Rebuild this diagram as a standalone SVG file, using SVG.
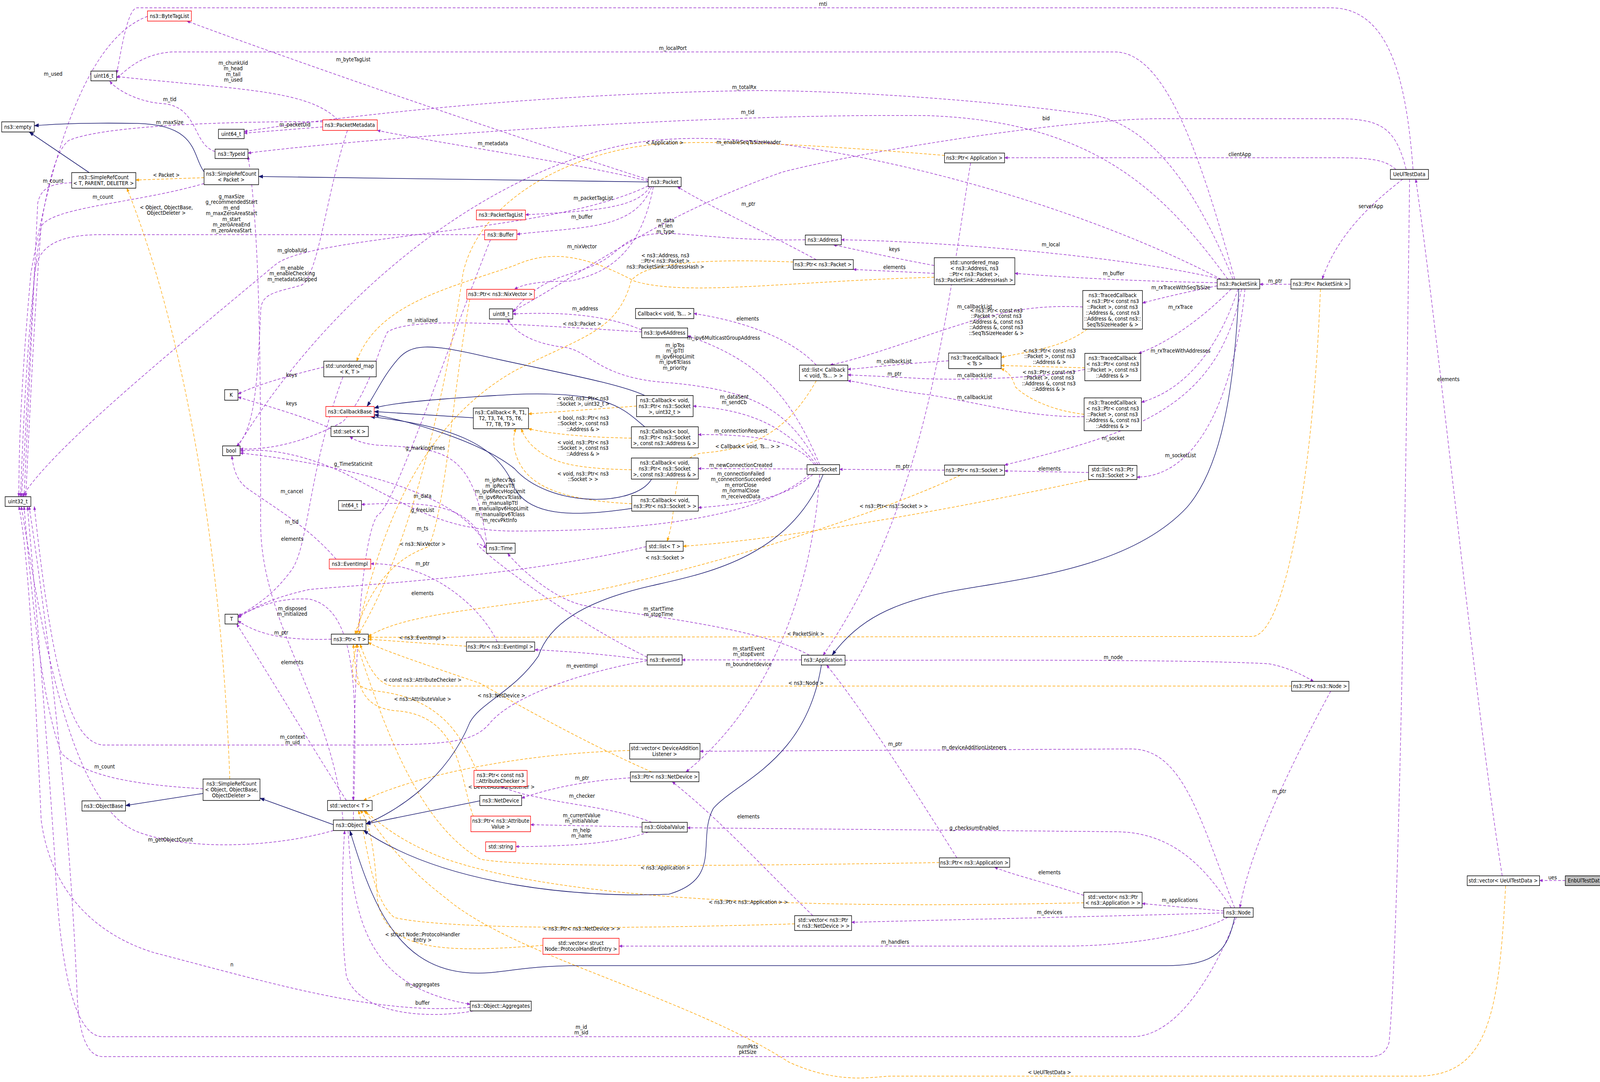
<svg xmlns="http://www.w3.org/2000/svg" width="4688" height="2771" viewBox="0 0 4688 2771">
<style>
text{font-family:"DejaVu Sans","Liberation Sans",sans-serif;font-size:14px;fill:#000}
.t{text-anchor:middle}
.l{text-anchor:middle}
rect{fill:#fff;stroke:#000;stroke-width:1.5}
rect.r{stroke:#f00}
rect.g{fill:#bfbfbf}
.m{fill:none;stroke:#9a32cd;stroke-width:1.5;stroke-dasharray:8,5;marker-end:url(#ap)}
.o{fill:none;stroke:#ffa500;stroke-width:1.5;stroke-dasharray:8,5;marker-end:url(#ao)}
.i{fill:none;stroke:#191970;stroke-width:1.6;marker-end:url(#ai)}
</style>
<defs>
<marker id="ap" markerWidth="10" markerHeight="8" refX="9" refY="4" orient="auto" markerUnits="userSpaceOnUse"><path d="M0,0L10,4L0,8z" fill="#9a32cd"/></marker>
<marker id="ao" markerWidth="10" markerHeight="8" refX="9" refY="4" orient="auto" markerUnits="userSpaceOnUse"><path d="M0,0L10,4L0,8z" fill="#ffa500"/></marker>
<marker id="ai" markerWidth="14" markerHeight="10" refX="13" refY="5" orient="auto" markerUnits="userSpaceOnUse"><path d="M0,0L14,5L0,10z" fill="#191970"/></marker>
</defs>
<rect x="0" y="0" width="4688" height="2771" style="fill:#fff;stroke:none"/>
<g transform="scale(0.878,1)">
<g id="connectors">
<path class="m" d="M430,42 C250,100 150,400 90,700 C60,1000 55,1150 55,1272"/>
<path class="m" d="M1890,460 C1500,350 900,170 545,54"/>
<path class="m" d="M985,307 C900,230 700,230 340,196"/>
<path class="m" d="M627,388 C560,370 580,270 470,265 C400,260 340,230 320,208"/>
<path class="m" d="M941,325 L712,341"/>
<path class="m" d="M941,312 C700,310 300,320 200,360 C110,420 75,900 60,1272"/>
<path class="m" d="M1013,334 C950,500 930,700 880,730 C800,750 760,750 760,800 C750,1000 740,1100 690,1142"/>
<path class="m" d="M1413,601 L300,601 C150,600 110,640 100,700 C80,1000 70,1200 62,1272"/>
<path class="m" d="M209,468 C150,470 120,480 110,520 C95,800 80,1100 70,1272"/>
<path class="m" d="M595,470 C400,520 150,530 120,580 C100,800 85,1100 75,1272"/>
<path class="m" d="M592,2020 C400,2010 250,1990 180,1930 C120,1800 90,1500 70,1297"/>
<path class="m" d="M972,2127 C800,2170 550,2180 400,2130 C200,2060 120,1600 62,1297"/>
<path class="m" d="M1371,2580 C1100,2600 800,2520 450,2440 C300,2400 150,2300 120,2100 C100,1700 80,1400 55,1297"/>
<path class="m" d="M1890,464 C1700,420 1300,370 1100,334"/>
<path class="m" d="M1895,478 C1860,530 1750,540 1532,550"/>
<path class="m" d="M1900,478 C1850,590 1700,580 1507,600"/>
<path class="m" d="M1905,478 C1870,640 1780,700 1660,720 C1560,720 1520,730 1500,741"/>
<path class="m" d="M1890,476 C1600,600 900,600 800,680 C500,900 150,1150 65,1272"/>
<path class="m" d="M2380,665 C2200,580 2050,520 1975,478"/>
<path class="m" d="M2348,614 C2000,620 1900,560 1800,640 C1700,720 1600,680 1495,800"/>
<path class="m" d="M1871,845 C1750,800 1600,800 1495,804"/>
<path class="m" d="M2724,680 C2600,660 2500,640 2430,627"/>
<path class="m" d="M2724,700 L2488,690"/>
<path class="m" d="M3560,715 C3300,660 2800,620 2453,614"/>
<path class="m" d="M3549,724 C3300,720 3100,710 2959,700"/>
<path class="m" d="M3549,732 C3450,750 3400,760 3331,776"/>
<path class="m" d="M3590,740 C3500,820 3400,880 3320,905"/>
<path class="m" d="M3610,740 C3550,900 3450,1000 3328,1030"/>
<path class="m" d="M3620,740 C3550,1050 3300,1110 2929,1191"/>
<path class="m" d="M3630,740 C3600,1000 3500,1220 3315,1222"/>
<path class="m" d="M3764,728 L3673,728"/>
<path class="m" d="M4090,459 C4000,520 3900,600 3855,715"/>
<path class="m" d="M4070,434 C4040,410 4000,404 3900,404 L2929,404"/>
<path class="m" d="M4380,2243 C4300,1800 4200,900 4128,459"/>
<path class="m" d="M4564,2255 L4489,2255"/>
<path class="m" d="M4110,459 C4100,1200 4080,2400 4050,2670 C4040,2700 4020,2706 3990,2706 L300,2706 C250,2706 230,2640 225,2550 C200,2000 120,1500 85,1297"/>
<path class="m" d="M3605,2349 C3560,2450 3450,2655 3300,2655 L300,2655 C200,2655 170,2400 160,2200 C130,1800 100,1500 80,1297"/>
<path class="m" d="M4120,434 C4100,200 4050,20 3880,20 L400,20 C370,20 350,150 340,188"/>
<path class="m" d="M3600,715 C3500,400 3400,133 3250,133 L500,133 C400,140 360,190 340,199"/>
<path class="m" d="M3595,715 C3450,400 3300,300 3150,290 C2900,260 2500,232 2200,232 C1500,240 900,310 712,337"/>
<path class="m" d="M3580,715 C3400,500 3200,310 2700,296 C2000,290 1000,360 723,392"/>
<path class="m" d="M4100,434 C4070,330 4030,304 3900,304 L3380,304 C3100,305 2500,390 2280,441 C1900,560 1700,700 1495,797"/>
<path class="m" d="M3560,715 C3200,550 2700,420 2300,372 C2100,350 2000,352 1900,360 C1500,400 1000,700 690,1148"/>
<path class="m" d="M2380,935 C2300,860 2150,820 2023,803"/>
<path class="m" d="M2766,924 C2650,930 2550,940 2472,946"/>
<path class="m" d="M3157,786 C3000,780 2900,800 2700,860 C2600,890 2500,920 2420,935"/>
<path class="m" d="M3163,946 C3100,960 2900,975 2700,970 C2600,965 2520,962 2472,960"/>
<path class="m" d="M3161,1067 C3000,1070 2850,1030 2700,1010 C2600,1000 2520,980 2472,975"/>
<path class="m" d="M2390,1190 C2300,1000 2200,920 2005,860"/>
<path class="m" d="M2385,1190 C2300,1050 2200,1000 1950,980 C1750,970 1720,900 1650,890 C1550,880 1500,850 1480,817"/>
<path class="m" d="M2380,1190 C2300,1100 2200,1050 2021,1040"/>
<path class="m" d="M2375,1190 C2330,1140 2250,1112 2036,1113"/>
<path class="m" d="M2353,1201 L2036,1200"/>
<path class="m" d="M2370,1215 C2300,1270 2200,1290 2036,1300"/>
<path class="m" d="M2360,1215 C2200,1340 1800,1360 1500,1360 C1300,1360 1200,1300 1000,1210 C850,1150 750,1150 700,1155"/>
<path class="m" d="M2754,1204 L2448,1202"/>
<path class="m" d="M3174,1210 L2929,1206"/>
<path class="m" d="M2337,1690 L1989,1690"/>
<path class="m" d="M2360,1678 C2200,1600 1800,1570 1700,1550 C1600,1530 1500,1440 1480,1417"/>
<path class="m" d="M2390,1215 C2370,1500 2250,1800 2000,1977"/>
<path class="m" d="M2464,1691 C3000,1690 3500,1690 3700,1700 C3760,1710 3800,1730 3830,1745"/>
<path class="m" d="M2790,2197 C2650,2000 2500,1800 2410,1703"/>
<path class="m" d="M2830,417 C2760,800 2700,1300 2400,1678"/>
<path class="m" d="M1887,1690 C1800,1680 1700,1670 1559,1664"/>
<path class="m" d="M980,1432 C900,1350 800,1300 720,1250 C690,1230 680,1200 676,1167"/>
<path class="m" d="M966,1637 C850,1640 760,1630 694,1590"/>
<path class="m" d="M1010,2050 C900,1900 800,1750 690,1598"/>
<path class="m" d="M1000,965 C900,1200 900,1400 850,1460 C800,1520 750,1550 694,1578"/>
<path class="m" d="M1884,1400 C1500,1480 1000,1500 900,1510 C800,1530 750,1550 694,1582"/>
<path class="m" d="M1030,2100 C1040,1800 1050,1560 900,1534 C800,1530 740,1560 694,1578"/>
<path class="m" d="M1015,2127 C1030,2400 1100,2530 1371,2572"/>
<path class="m" d="M1380,2589 C1250,2610 1050,2600 1010,2500 C995,2400 995,2250 1005,2127"/>
<path class="m" d="M1838,1992 C1700,2000 1600,2020 1521,2044"/>
<path class="m" d="M1900,2106 C1800,2070 1650,2060 1560,2040 C1500,2030 1480,2020 1460,2014"/>
<path class="m" d="M1872,2118 L1547,2112"/>
<path class="m" d="M1890,2131 C1800,2160 1650,2168 1504,2168"/>
<path class="m" d="M3600,2325 C3500,2100 3450,1920 3300,1918 L2041,1924"/>
<path class="m" d="M3590,2325 C3500,2200 3400,2130 3250,2130 L2004,2120"/>
<path class="m" d="M2370,2345 C2200,2200 2100,2100 1960,2002"/>
<path class="m" d="M3160,2293 C3050,2260 2950,2240 2900,2221"/>
<path class="m" d="M3568,2333 L3330,2314"/>
<path class="m" d="M3568,2338 C3300,2345 2800,2355 2483,2362"/>
<path class="m" d="M3580,2349 C3500,2390 3300,2423 3100,2423 L1805,2423"/>
<path class="m" d="M3880,1770 C3800,1900 3650,2150 3615,2325"/>
<path class="m" d="M944,940 C850,960 750,985 694,1009"/>
<path class="m" d="M965,1098 C900,1070 780,1040 694,1017"/>
<path class="m" d="M1420,1397 C1380,1150 1300,1150 1100,1140 C1050,1135 1030,1125 1020,1118"/>
<path class="m" d="M1420,1403 C1350,1260 1000,1190 700,1160"/>
<path class="m" d="M1420,1410 C1380,1290 1250,1283 1054,1292"/>
<path class="m" d="M1887,1683 C1600,1560 1300,1340 1418,1403"/>
<path class="m" d="M1430,614 C1300,900 1150,1300 1100,1320 C1040,1400 1030,1900 1030,2050"/>
<path class="m" d="M1000,2100 C970,1800 760,1600 760,1340 C760,1000 760,600 723,400"/>
<path class="m" d="M1900,1690 C1700,1720 1500,1780 1430,1850 C1380,1905 1300,1908 1000,1908 L300,1908 C200,1900 150,1700 100,1297"/>
<path class="m" d="M1450,1644 C1400,1550 1250,1440 1081,1444"/>
<path class="m" d="M1871,850 C1500,830 1200,810 1130,850 C1100,900 1080,1000 1000,1080 C850,1150 750,1150 700,1150"/>
<path class="o" d="M595,455 L396,461"/>
<path class="o" d="M670,1995 C650,1500 560,900 370,482"/>
<path class="o" d="M2724,710 C2300,720 2000,760 1850,720 C1700,650 1600,640 1500,680 C1300,740 1100,780 1040,925"/>
<path class="o" d="M2313,671 C2000,660 1870,680 1840,720 C1800,850 1700,860 1500,950 C1200,1100 1100,1400 1040,1624"/>
<path class="o" d="M1370,766 C1320,1000 1300,1300 1250,1400 C1150,1430 1080,1500 1035,1624"/>
<path class="o" d="M1360,1655 L1074,1637"/>
<path class="o" d="M1390,1973 C1350,1900 1300,1790 1100,1770 C1000,1760 1030,1700 1040,1650"/>
<path class="o" d="M1380,2090 C1340,2000 1350,1830 1150,1820 C1050,1810 1040,1750 1030,1650"/>
<path class="o" d="M1900,1977 C1700,1900 1500,1800 1400,1750 C1200,1690 1100,1660 1074,1645"/>
<path class="o" d="M2739,2209 C2000,2220 1500,2220 1400,2200 C1200,2100 1100,1800 1040,1650"/>
<path class="o" d="M2754,398 C2500,380 2200,360 1980,366 C1700,370 1400,500 1350,700 C1300,1000 1200,1400 1045,1624"/>
<path class="o" d="M3850,740 C3830,1200 3750,1630 3650,1630 L1074,1632"/>
<path class="o" d="M3766,1757 L1150,1757 C1100,1757 1070,1700 1050,1650"/>
<path class="o" d="M2800,1217 C2600,1300 2200,1420 1800,1500 C1500,1560 1200,1560 1074,1630"/>
<path class="o" d="M2380,975 C2300,1100 2200,1150 2050,1160 C1950,1170 1980,1300 1945,1386"/>
<path class="o" d="M3180,1228 C2800,1300 2300,1380 1992,1399"/>
<path class="o" d="M1856,1040 L1541,1060"/>
<path class="o" d="M1841,1122 C1700,1120 1600,1110 1541,1098"/>
<path class="o" d="M1841,1203 C1650,1200 1600,1180 1550,1140 C1530,1120 1525,1110 1520,1098"/>
<path class="o" d="M1842,1290 C1600,1280 1520,1230 1500,1150 C1495,1120 1500,1105 1505,1098"/>
<path class="o" d="M3170,843 C3100,890 3000,900 2919,915"/>
<path class="o" d="M3163,942 L2919,936"/>
<path class="o" d="M3161,1061 C3050,1050 2980,1010 2960,990 C2950,960 2935,950 2919,944"/>
<path class="o" d="M1836,1922 C1500,1930 1200,1990 1060,2050"/>
<path class="o" d="M1583,2421 C1300,2440 1120,2440 1100,2300 C1095,2200 1080,2100 1050,2076"/>
<path class="o" d="M2317,2366 C1800,2380 1300,2380 1150,2350 C1080,2300 1070,2150 1045,2076"/>
<path class="o" d="M3160,2312 C2500,2325 1700,2320 1300,2200 C1150,2150 1100,2100 1060,2076"/>
<path class="o" d="M4390,2268 C4370,2600 4340,2756 4130,2756 L2600,2756 C2550,2756 2450,2780 2300,2720 C2000,2550 1500,2450 1300,2300 C1150,2200 1080,2100 1065,2076"/>
<path class="i" d="M260,442 L85,338"/>
<path class="i" d="M595,440 C560,400 580,320 400,316 C250,314 150,318 100,322"/>
<path class="i" d="M1890,466 L754,452"/>
<path class="i" d="M1380,1070 L1091,1054"/>
<path class="i" d="M1880,1013 C1800,980 1600,950 1400,910 C1250,880 1200,880 1160,920 C1120,960 1100,1000 1070,1041"/>
<path class="i" d="M1880,1093 C1820,1050 1780,1000 1500,1010 C1300,1020 1150,1030 1091,1045"/>
<path class="i" d="M1900,1227 C1850,1300 1600,1300 1500,1200 C1400,1130 1200,1080 1091,1062"/>
<path class="i" d="M1842,1302 C1700,1320 1550,1330 1500,1250 C1450,1130 1300,1090 1080,1067"/>
<path class="i" d="M592,2032 L366,2063"/>
<path class="i" d="M972,2112 L758,2044"/>
<path class="i" d="M1399,2051 L1067,2110"/>
<path class="i" d="M2400,1215 C2300,1430 2050,1470 1900,1500 C1700,1540 1600,1600 1570,1680 C1500,1770 1400,1800 1370,1850 C1300,2000 1150,2080 1067,2110"/>
<path class="i" d="M2395,1703 C2350,1950 2150,2000 2080,2070 C2030,2150 2110,2250 1950,2290 C1700,2300 1300,2270 1060,2127"/>
<path class="i" d="M3612,740 C3600,1000 3560,1200 3460,1300 C3300,1450 3000,1480 2800,1510 C2600,1540 2500,1590 2426,1678"/>
<path class="i" d="M3600,2349 C3580,2430 3550,2473 3400,2473 L1690,2473 C1500,2473 1450,2500 1350,2490 C1150,2470 1080,2300 1020,2127"/>
<g class="lbl">
<text class="l" x="155" y="194">m_used</text>
<text class="l" x="1030" y="157">m_byteTagList</text>
<text class="l" x="680" y="166">m_chunkUid<tspan x="680" dy="14.5">m_head</tspan><tspan x="680" dy="14.5">m_tail</tspan><tspan x="680" dy="14.5">m_used</tspan></text>
<text class="l" x="495" y="259">m_tid</text>
<text class="l" x="860" y="324">m_packetUid</text>
<text class="l" x="495" y="318">m_maxSize</text>
<text class="l" x="852" y="691">m_enable<tspan x="852" dy="14.5">m_enableChecking</tspan><tspan x="852" dy="14.5">m_metadataSkipped</tspan></text>
<text class="l" x="675" y="508">g_maxSize<tspan x="675" dy="14.5">g_recommendedStart</tspan><tspan x="675" dy="14.5">m_end</tspan><tspan x="675" dy="14.5">m_maxZeroAreaStart</tspan><tspan x="675" dy="14.5">m_start</tspan><tspan x="675" dy="14.5">m_zeroAreaEnd</tspan><tspan x="675" dy="14.5">m_zeroAreaStart</tspan></text>
<text class="l" x="155" y="468">m_count</text>
<text class="l" x="300" y="509">m_count</text>
<text class="l" x="305" y="1968">m_count</text>
<text class="l" x="497" y="2155">m_getObjectCount</text>
<text class="l" x="676" y="2475">n</text>
<text class="l" x="1437" y="372">m_metadata</text>
<text class="l" x="1730" y="512">m_packetTagList</text>
<text class="l" x="1697" y="560">m_buffer</text>
<text class="l" x="1697" y="636">m_nixVector</text>
<text class="l" x="852" y="646">m_globalUid</text>
<text class="l" x="2182" y="527">m_ptr</text>
<text class="l" x="1940" y="569">m_data<tspan x="1940" dy="14.5">m_len</tspan><tspan x="1940" dy="14.5">m_type</tspan></text>
<text class="l" x="1706" y="795">m_address</text>
<text class="l" x="2608" y="643">keys</text>
<text class="l" x="2608" y="689">elements</text>
<text class="l" x="3064" y="631">m_local</text>
<text class="l" x="3247" y="705">m_buffer</text>
<text class="l" x="3443" y="741">m_rxTraceWithSeqTsSize</text>
<text class="l" x="3442" y="791">m_rxTrace</text>
<text class="l" x="3442" y="903">m_rxTraceWithAddresses</text>
<text class="l" x="3246" y="1127">m_socket</text>
<text class="l" x="3442" y="1171">m_socketList</text>
<text class="l" x="3718" y="724">m_ptr</text>
<text class="l" x="3997" y="533">serverApp</text>
<text class="l" x="3615" y="400">clientApp</text>
<text class="l" x="4223" y="976">elements</text>
<text class="l" x="4527" y="2252">ues</text>
<text class="l" x="2180" y="2685">numPkts<tspan x="2180" dy="14.5">pktSize</tspan></text>
<text class="l" x="1695" y="2635">m_id<tspan x="1695" dy="14.5">m_sid</tspan></text>
<text class="l" x="2400" y="15">rnti</text>
<text class="l" x="1962" y="128">m_localPort</text>
<text class="l" x="2170" y="228">m_totalRx</text>
<text class="l" x="2180" y="292">m_tid</text>
<text class="l" x="3050" y="308">bid</text>
<text class="l" x="2183" y="369">m_enableSeqTsSizeHeader</text>
<text class="l" x="2180" y="821">elements</text>
<text class="l" x="2607" y="930">m_callbackList</text>
<text class="l" x="2608" y="962">m_ptr</text>
<text class="l" x="2842" y="790">m_callbackList</text>
<text class="l" x="2842" y="966">m_callbackList</text>
<text class="l" x="2842" y="1022">m_callbackList</text>
<text class="l" x="2110" y="870">m_ipv6MulticastGroupAddress</text>
<text class="l" x="1968" y="889">m_ipTos<tspan x="1968" dy="14.5">m_ipTtl</tspan><tspan x="1968" dy="14.5">m_ipv6HopLimit</tspan><tspan x="1968" dy="14.5">m_ipv6Tclass</tspan><tspan x="1968" dy="14.5">m_priority</tspan></text>
<text class="l" x="2141" y="1021">m_dataSent<tspan x="2141" dy="14.5">m_sendCb</tspan></text>
<text class="l" x="2160" y="1108">m_connectionRequest</text>
<text class="l" x="2160" y="1196">m_newConnectionCreated</text>
<text class="l" x="2160" y="1218">m_connectionFailed<tspan x="2160" dy="14.5">m_connectionSucceeded</tspan><tspan x="2160" dy="14.5">m_errorClose</tspan><tspan x="2160" dy="14.5">m_normalClose</tspan><tspan x="2160" dy="14.5">m_receivedData</tspan></text>
<text class="l" x="1458" y="1234">m_ipRecvTos<tspan x="1458" dy="14.7">m_ipRecvTtl</tspan><tspan x="1458" dy="14.7">m_ipv6RecvHopLimit</tspan><tspan x="1458" dy="14.7">m_ipv6RecvTclass</tspan><tspan x="1458" dy="14.7">m_manualIpTtl</tspan><tspan x="1458" dy="14.7">m_manualIpv6HopLimit</tspan><tspan x="1458" dy="14.7">m_manualIpv6Tclass</tspan><tspan x="1458" dy="14.7">m_recvPktInfo</tspan></text>
<text class="l" x="2632" y="1199">m_ptr</text>
<text class="l" x="3060" y="1205">elements</text>
<text class="l" x="2183" y="1666">m_startEvent<tspan x="2183" dy="14.5">m_stopEvent</tspan></text>
<text class="l" x="1920" y="1564">m_startTime<tspan x="1920" dy="14.5">m_stopTime</tspan></text>
<text class="l" x="2183" y="1706">m_boundnetdevice</text>
<text class="l" x="3246" y="1688">m_node</text>
<text class="l" x="2610" y="1910">m_ptr</text>
<text class="l" x="1697" y="1710">m_eventImpl</text>
<text class="l" x="851" y="1263">m_cancel</text>
<text class="l" x="820" y="1625">m_ptr</text>
<text class="l" x="852" y="1701">elements</text>
<text class="l" x="852" y="1385">elements</text>
<text class="l" x="1232" y="1524">elements</text>
<text class="l" x="852" y="1563">m_disposed<tspan x="852" dy="14.5">m_initialized</tspan></text>
<text class="l" x="1232" y="2526">m_aggregates</text>
<text class="l" x="1232" y="2573">buffer</text>
<text class="l" x="1697" y="1997">m_ptr</text>
<text class="l" x="1697" y="2043">m_checker</text>
<text class="l" x="1696" y="2093">m_currentValue<tspan x="1696" dy="14">m_initialValue</tspan></text>
<text class="l" x="1696" y="2131">m_help<tspan x="1696" dy="14.5">m_name</tspan></text>
<text class="l" x="2840" y="1919">m_deviceAdditionListeners</text>
<text class="l" x="2840" y="2125">g_checksumEnabled</text>
<text class="l" x="2182" y="2096">elements</text>
<text class="l" x="3060" y="2239">elements</text>
<text class="l" x="3440" y="2310">m_applications</text>
<text class="l" x="3060" y="2341">m_devices</text>
<text class="l" x="2610" y="2417">m_handlers</text>
<text class="l" x="3730" y="2031">m_ptr</text>
<text class="l" x="850" y="965">keys</text>
<text class="l" x="850" y="1038">keys</text>
<text class="l" x="1240" y="1152">g_markingTimes</text>
<text class="l" x="1030" y="1193">g_TimeStaticInit</text>
<text class="l" x="1232" y="1275">m_data</text>
<text class="l" x="1232" y="1358">m_ts</text>
<text class="l" x="1232" y="1311">g_freeList</text>
<text class="l" x="851" y="1341">m_tid</text>
<text class="l" x="853" y="1892">m_context<tspan x="853" dy="14.5">m_uid</tspan></text>
<text class="l" x="1232" y="1448">m_ptr</text>
<text class="l" x="1232" y="825">m_initialized</text>
<text class="l" x="485" y="453">&lt; Packet &gt;</text>
<text class="l" x="485" y="536">&lt; Object, ObjectBase,<tspan x="485" dy="14.5">ObjectDeleter &gt;</tspan></text>
<text class="l" x="1940" y="659">&lt; ns3::Address, ns3<tspan x="1940" dy="14.5">::Ptr&lt; ns3::Packet &gt;</tspan><tspan x="1940" dy="14.5">ns3::PacketSink::AddressHash &gt;</tspan></text>
<text class="l" x="1697" y="834">&lt; ns3::Packet &gt;</text>
<text class="l" x="1232" y="1398">&lt; ns3::NixVector &gt;</text>
<text class="l" x="1232" y="1638">&lt; ns3::EventImpl &gt;</text>
<text class="l" x="1232" y="1746">&lt; const ns3::AttributeChecker &gt;</text>
<text class="l" x="1232" y="1795">&lt; ns3::AttributeValue &gt;</text>
<text class="l" x="1462" y="1786">&lt; ns3::NetDevice &gt;</text>
<text class="l" x="1940" y="2227">&lt; ns3::Application &gt;</text>
<text class="l" x="1938" y="370">&lt; Application &gt;</text>
<text class="l" x="2349" y="1628">&lt; PacketSink &gt;</text>
<text class="l" x="2350" y="1754">&lt; ns3::Node &gt;</text>
<text class="l" x="1939" y="1433">&lt; ns3::Socket &gt;</text>
<text class="l" x="2180" y="1148">&lt; Callback&lt; void, Ts... &gt; &gt;</text>
<text class="l" x="2606" y="1301">&lt; ns3::Ptr&lt; ns3::Socket &gt; &gt;</text>
<text class="l" x="1700" y="1025">&lt; void, ns3::Ptr&lt; ns3<tspan x="1700" dy="14.5">::Socket &gt;, uint32_t &gt;</tspan></text>
<text class="l" x="1700" y="1075">&lt; bool, ns3::Ptr&lt; ns3<tspan x="1700" dy="14.5">::Socket &gt;, const ns3</tspan><tspan x="1700" dy="14.5">::Address &amp; &gt;</tspan></text>
<text class="l" x="1700" y="1138">&lt; void, ns3::Ptr&lt; ns3<tspan x="1700" dy="14.5">::Socket &gt;, const ns3</tspan><tspan x="1700" dy="14.5">::Address &amp; &gt;</tspan></text>
<text class="l" x="1700" y="1218">&lt; void, ns3::Ptr&lt; ns3<tspan x="1700" dy="14.5">::Socket &gt; &gt;</tspan></text>
<text class="l" x="2905" y="800">&lt; ns3::Ptr&lt; const ns3<tspan x="2905" dy="14.5">::Packet &gt;, const ns3</tspan><tspan x="2905" dy="14.5">::Address &amp;, const ns3</tspan><tspan x="2905" dy="14.5">::Address &amp;, const ns3</tspan><tspan x="2905" dy="14.5">::SeqTsSizeHeader &amp; &gt;</tspan></text>
<text class="l" x="3060" y="903">&lt; ns3::Ptr&lt; const ns3<tspan x="3060" dy="14.5">::Packet &gt;, const ns3</tspan><tspan x="3060" dy="14.5">::Address &amp; &gt;</tspan></text>
<text class="l" x="3058" y="958">&lt; ns3::Ptr&lt; const ns3<tspan x="3058" dy="14.5">::Packet &gt;, const ns3</tspan><tspan x="3058" dy="14.5">::Address &amp;, const ns3</tspan><tspan x="3058" dy="14.5">::Address &amp; &gt;</tspan></text>
<text class="l" x="1462" y="2020">&lt; DeviceAdditionListener &gt;</text>
<text class="l" x="1232" y="2398">&lt; struct Node::ProtocolHandler<tspan x="1232" dy="14.5">Entry &gt;</tspan></text>
<text class="l" x="1696" y="2383">&lt; ns3::Ptr&lt; ns3::NetDevice &gt; &gt;</text>
<text class="l" x="2182" y="2315">&lt; ns3::Ptr&lt; ns3::Application &gt; &gt;</text>
<text class="l" x="3060" y="2751">&lt; UeUlTestData &gt;</text>
</g>
</g>
<g id="n_bytetaglist"><rect class="r" x="430" y="28" width="128" height="26"/><text class="t" x="494" y="46">ns3::ByteTagList</text></g>
<g id="n_uint16"><rect x="265" y="182" width="75" height="25"/><text class="t" x="302" y="199">uint16_t</text></g>
<g id="n_empty"><rect x="5" y="312" width="95" height="26"/><text class="t" x="52" y="330">ns3::empty</text></g>
<g id="n_uint64"><rect x="637" y="331" width="75" height="24"/><text class="t" x="674" y="348">uint64_t</text></g>
<g id="n_pktmeta"><rect class="r" x="941" y="307" width="159" height="27"/><text class="t" x="1020" y="325">ns3::PacketMetadata</text></g>
<g id="n_typeid"><rect x="627" y="382" width="96" height="24"/><text class="t" x="675" y="399">ns3::TypeId</text></g>
<g id="n_srcT"><rect x="209" y="442" width="187" height="40"/><text class="t" x="302" y="459">ns3::SimpleRefCount<tspan x="302" dy="15">&lt; T, PARENT, DELETER &gt;</tspan></text></g>
<g id="n_srcPkt"><rect x="595" y="433" width="159" height="40"/><text class="t" x="674" y="450">ns3::SimpleRefCount<tspan x="674" dy="15">&lt; Packet &gt;</tspan></text></g>
<g id="n_packet"><rect x="1890" y="454" width="96" height="24"/><text class="t" x="1938" y="471">ns3::Packet</text></g>
<g id="n_pkttaglist"><rect class="r" x="1389" y="538" width="143" height="25"/><text class="t" x="1460" y="555">ns3::PacketTagList</text></g>
<g id="n_buffer"><rect class="r" x="1413" y="589" width="94" height="25"/><text class="t" x="1460" y="606">ns3::Buffer</text></g>
<g id="n_ptrnix"><rect class="r" x="1361" y="741" width="197" height="25"/><text class="t" x="1459" y="758">ns3::Ptr&lt; ns3::NixVector &gt;</text></g>
<g id="n_uint8"><rect x="1427" y="791" width="68" height="26"/><text class="t" x="1461" y="809">uint8_t</text></g>
<g id="n_umapKT"><rect x="944" y="925" width="153" height="40"/><text class="t" x="1020" y="942">std::unordered_map<tspan x="1020" dy="15">&lt; K, T &gt;</tspan></text></g>
<g id="n_K"><rect x="655" y="998" width="39" height="27"/><text class="t" x="674" y="1016">K</text></g>
<g id="n_cbbase"><rect class="r" x="950" y="1041" width="141" height="26"/><text class="t" x="1020" y="1059">ns3::CallbackBase</text></g>
<g id="n_setK"><rect x="965" y="1092" width="109" height="26"/><text class="t" x="1019" y="1110">std::set&lt; K &gt;</text></g>
<g id="n_bool"><rect x="649" y="1142" width="51" height="25"/><text class="t" x="674" y="1159">bool</text></g>
<g id="n_uint32"><rect x="15" y="1272" width="75" height="25"/><text class="t" x="52" y="1289">uint32_t</text></g>
<g id="n_int64"><rect x="987" y="1282" width="67" height="25"/><text class="t" x="1020" y="1299">int64_t</text></g>
<g id="n_cbR"><rect x="1380" y="1045" width="161" height="53"/><text class="t" x="1460" y="1061">ns3::Callback&lt; R, T1,<tspan x="1460" dy="15">T2, T3, T4, T5, T6,</tspan><tspan x="1460" dy="15">T7, T8, T9 &gt;</tspan></text></g>
<g id="n_time"><rect x="1418" y="1391" width="84" height="26"/><text class="t" x="1460" y="1409">ns3::Time</text></g>
<g id="n_address"><rect x="2348" y="602" width="105" height="25"/><text class="t" x="2400" y="619">ns3::Address</text></g>
<g id="n_ptrpkt"><rect x="2313" y="665" width="175" height="25"/><text class="t" x="2400" y="682">ns3::Ptr&lt; ns3::Packet &gt;</text></g>
<g id="n_cbvoidTs"><rect x="1853" y="790" width="170" height="26"/><text class="t" x="1938" y="808">Callback&lt; void, Ts... &gt;</text></g>
<g id="n_ipv6"><rect x="1871" y="840" width="134" height="25"/><text class="t" x="1938" y="857">ns3::Ipv6Address</text></g>
<g id="n_listcb"><rect x="2331" y="935" width="141" height="40"/><text class="t" x="2401" y="952">std::list&lt; Callback<tspan x="2401" dy="15">&lt; void, Ts... &gt; &gt;</tspan></text></g>
<g id="n_cb1"><rect x="1856" y="1013" width="165" height="54"/><text class="t" x="1938" y="1030">ns3::Callback&lt; void,<tspan x="1938" dy="15">ns3::Ptr&lt; ns3::Socket</tspan><tspan x="1938" dy="15">&gt;, uint32_t &gt;</tspan></text></g>
<g id="n_cb2"><rect x="1841" y="1093" width="195" height="54"/><text class="t" x="1938" y="1110">ns3::Callback&lt; bool,<tspan x="1938" dy="15">ns3::Ptr&lt; ns3::Socket</tspan><tspan x="1938" dy="15">&gt;, const ns3::Address &amp; &gt;</tspan></text></g>
<g id="n_cb3"><rect x="1841" y="1173" width="195" height="54"/><text class="t" x="1938" y="1190">ns3::Callback&lt; void,<tspan x="1938" dy="15">ns3::Ptr&lt; ns3::Socket</tspan><tspan x="1938" dy="15">&gt;, const ns3::Address &amp; &gt;</tspan></text></g>
<g id="n_cb4"><rect x="1842" y="1269" width="194" height="40"/><text class="t" x="1939" y="1286">ns3::Callback&lt; void,<tspan x="1939" dy="15">ns3::Ptr&lt; ns3::Socket &gt; &gt;</tspan></text></g>
<g id="n_socket"><rect x="2353" y="1190" width="95" height="25"/><text class="t" x="2400" y="1207">ns3::Socket</text></g>
<g id="n_listT"><rect x="1884" y="1386" width="108" height="26"/><text class="t" x="1938" y="1404">std::list&lt; T &gt;</text></g>
<g id="n_ptrapp"><rect x="2754" y="392" width="175" height="25"/><text class="t" x="2841" y="409">ns3::Ptr&lt; Application &gt;</text></g>
<g id="n_umapA"><rect x="2724" y="660" width="235" height="69"/><text class="t" x="2841" y="677">std::unordered_map<tspan x="2841" dy="15">&lt; ns3::Address, ns3</tspan><tspan x="2841" dy="15">::Ptr&lt; ns3::Packet &gt;,</tspan><tspan x="2841" dy="15">ns3::PacketSink::AddressHash &gt;</tspan></text></g>
<g id="n_sink"><rect x="3549" y="715" width="124" height="25"/><text class="t" x="3611" y="732">ns3::PacketSink</text></g>
<g id="n_ptrsink"><rect x="3764" y="715" width="172" height="25"/><text class="t" x="3850" y="732">ns3::Ptr&lt; PacketSink &gt;</text></g>
<g id="n_tc1"><rect x="3157" y="744" width="174" height="99"/><text class="t" x="3244" y="761">ns3::TracedCallback<tspan x="3244" dy="15">&lt; ns3::Ptr&lt; const ns3</tspan><tspan x="3244" dy="15">::Packet &gt;, const ns3</tspan><tspan x="3244" dy="15">::Address &amp;, const ns3</tspan><tspan x="3244" dy="15">::Address &amp;, const ns3::</tspan><tspan x="3244" dy="15">SeqTsSizeHeader &amp; &gt;</tspan></text></g>
<g id="n_tcTs"><rect x="2766" y="904" width="153" height="40"/><text class="t" x="2842" y="921">ns3::TracedCallback<tspan x="2842" dy="15">&lt; Ts &gt;</tspan></text></g>
<g id="n_tc2"><rect x="3163" y="905" width="163" height="70"/><text class="t" x="3244" y="922">ns3::TracedCallback<tspan x="3244" dy="15">&lt; ns3::Ptr&lt; const ns3</tspan><tspan x="3244" dy="15">::Packet &gt;, const ns3</tspan><tspan x="3244" dy="15">::Address &amp; &gt;</tspan></text></g>
<g id="n_tc3"><rect x="3161" y="1019" width="167" height="84"/><text class="t" x="3244" y="1036">ns3::TracedCallback<tspan x="3244" dy="15">&lt; ns3::Ptr&lt; const ns3</tspan><tspan x="3244" dy="15">::Packet &gt;, const ns3</tspan><tspan x="3244" dy="15">::Address &amp;, const ns3</tspan><tspan x="3244" dy="15">::Address &amp; &gt;</tspan></text></g>
<g id="n_ptrsock"><rect x="2754" y="1191" width="175" height="26"/><text class="t" x="2841" y="1209">ns3::Ptr&lt; ns3::Socket &gt;</text></g>
<g id="n_listsock"><rect x="3174" y="1192" width="141" height="36"/><text class="t" x="3244" y="1207">std::list&lt; ns3::Ptr<tspan x="3244" dy="15">&lt; ns3::Socket &gt; &gt;</tspan></text></g>
<g id="n_ue"><rect x="4054" y="434" width="111" height="25"/><text class="t" x="4109" y="451">UeUlTestData</text></g>
<g id="n_ptrnode"><rect x="3766" y="1745" width="167" height="25"/><text class="t" x="3849" y="1762">ns3::Ptr&lt; ns3::Node &gt;</text></g>
<g id="n_vecue"><rect x="4278" y="2243" width="211" height="25"/><text class="t" x="4383" y="2260">std::vector&lt; UeUlTestData &gt;</text></g>
<g id="n_enb"><rect class="g" x="4564" y="2243" width="117" height="25"/><text class="t" x="4622" y="2260">EnbUlTestData</text></g>
<g id="n_T"><rect x="656" y="1573" width="38" height="25"/><text class="t" x="675" y="1590">T</text></g>
<g id="n_eventimpl"><rect class="r" x="960" y="1432" width="121" height="25"/><text class="t" x="1020" y="1449">ns3::EventImpl</text></g>
<g id="n_ptrT"><rect x="966" y="1624" width="108" height="26"/><text class="t" x="1020" y="1642">ns3::Ptr&lt; T &gt;</text></g>
<g id="n_ptrev"><rect x="1360" y="1644" width="199" height="24"/><text class="t" x="1459" y="1661">ns3::Ptr&lt; ns3::EventImpl &gt;</text></g>
<g id="n_eventid"><rect x="1887" y="1677" width="102" height="26"/><text class="t" x="1938" y="1695">ns3::EventId</text></g>
<g id="n_vecdal"><rect x="1836" y="1904" width="205" height="40"/><text class="t" x="1938" y="1921">std::vector&lt; DeviceAddition<tspan x="1938" dy="15">Listener &gt;</tspan></text></g>
<g id="n_ptrnd"><rect x="1838" y="1977" width="200" height="25"/><text class="t" x="1938" y="1994">ns3::Ptr&lt; ns3::NetDevice &gt;</text></g>
<g id="n_ptrac"><rect class="r" x="1382" y="1973" width="155" height="41"/><text class="t" x="1459" y="1990">ns3::Ptr&lt; const ns3<tspan x="1459" dy="15">::AttributeChecker &gt;</tspan></text></g>
<g id="n_netdev"><rect x="1399" y="2037" width="122" height="26"/><text class="t" x="1460" y="2055">ns3::NetDevice</text></g>
<g id="n_srcObj"><rect x="592" y="1995" width="166" height="55"/><text class="t" x="675" y="2012">ns3::SimpleRefCount<tspan x="675" dy="15">&lt; Object, ObjectBase,</tspan><tspan x="675" dy="15">ObjectDeleter &gt;</tspan></text></g>
<g id="n_objbase"><rect x="239" y="2051" width="127" height="26"/><text class="t" x="302" y="2069">ns3::ObjectBase</text></g>
<g id="n_vecT"><rect x="955" y="2050" width="130" height="26"/><text class="t" x="1020" y="2068">std::vector&lt; T &gt;</text></g>
<g id="n_object"><rect x="972" y="2100" width="95" height="27"/><text class="t" x="1019" y="2118">ns3::Object</text></g>
<g id="n_ptrav"><rect class="r" x="1373" y="2090" width="174" height="40"/><text class="t" x="1460" y="2107">ns3::Ptr&lt; ns3::Attribute<tspan x="1460" dy="15">Value &gt;</tspan></text></g>
<g id="n_gv"><rect x="1872" y="2106" width="132" height="25"/><text class="t" x="1938" y="2123">ns3::GlobalValue</text></g>
<g id="n_string"><rect class="r" x="1416" y="2156" width="88" height="25"/><text class="t" x="1460" y="2173">std::string</text></g>
<g id="n_vecph"><rect class="r" x="1583" y="2403" width="222" height="41"/><text class="t" x="1694" y="2420">std::vector&lt; struct<tspan x="1694" dy="15">Node::ProtocolHandlerEntry &gt;</tspan></text></g>
<g id="n_aggr"><rect x="1371" y="2564" width="178" height="25"/><text class="t" x="1460" y="2581">ns3::Object::Aggregates</text></g>
<g id="n_app"><rect x="2337" y="1678" width="127" height="25"/><text class="t" x="2400" y="1695">ns3::Application</text></g>
<g id="n_ptrapp2"><rect x="2739" y="2197" width="205" height="24"/><text class="t" x="2841" y="2214">ns3::Ptr&lt; ns3::Application &gt;</text></g>
<g id="n_vecpapp"><rect x="3160" y="2285" width="170" height="40"/><text class="t" x="3245" y="2302">std::vector&lt; ns3::Ptr<tspan x="3245" dy="15">&lt; ns3::Application &gt; &gt;</tspan></text></g>
<g id="n_vecpnd"><rect x="2317" y="2345" width="166" height="38"/><text class="t" x="2400" y="2361">std::vector&lt; ns3::Ptr<tspan x="2400" dy="15">&lt; ns3::NetDevice &gt; &gt;</tspan></text></g>
<g id="n_node"><rect x="3568" y="2325" width="86" height="24"/><text class="t" x="3611" y="2342">ns3::Node</text></g>
</g>
</svg>
